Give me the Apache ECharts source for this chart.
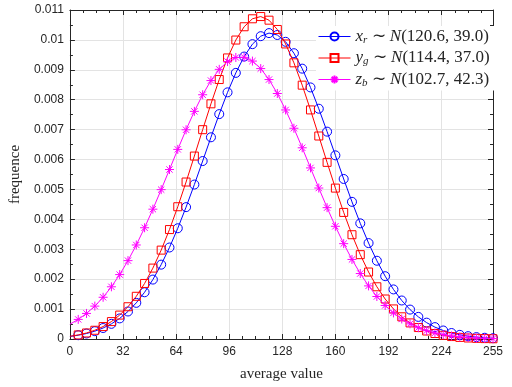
<!DOCTYPE html>
<html>
<head>
<meta charset="utf-8">
<script src="https://cdn.jsdelivr.net/npm/echarts@6/dist/echarts.min.js"></script>
<style>html,body{margin:0;padding:0;background:#fff}#c{width:512px;height:387px}</style>
</head>
<body>
<div id="c"></div>
<script>
// average value positions (markers shown from 5 on)
var xs = [0,5,10,15,20,25,30,35,40,45,50,55,60,65,70,75,80,85,90,95,100,105,110,115,120,125,130,135,140,145,150,155,160,165,170,175,180,185,190,195,200,205,210,215,220,225,230,235,240,245,250,255];
var xTicks = [0,32,64,96,128,160,192,224,255];
var yTicks = [0,0.001,0.002,0.003,0.004,0.005,0.006,0.007,0.008,0.009,0.01,0.011];
var seriesNames = ['x_r ~ N(120.6, 39.0)', 'y_g ~ N(114.4, 37.0)', 'z_b ~ N(102.7, 42.3)'];
var xr = [0.0000858,0.0001265,0.0001834,0.0002617,0.0003673,0.0005071,0.0006886,0.0009199,0.0012088,0.0015628,0.0019872,0.0024860,0.0030589,0.0037026,0.0044087,0.0051640,0.0059500,0.0067439,0.0075191,0.0082467,0.0088974,0.0094428,0.0098584,0.0101244,0.0102281,0.0101644,0.0099365,0.0095553,0.0090389,0.0084111,0.0076992,0.0069326,0.0061407,0.0053506,0.0045861,0.0038668,0.0032071,0.0026166,0.0021001,0.0016580,0.0012876,0.0009837,0.0007393,0.0005465,0.0003974,0.0002843,0.0002001,0.0001385,0.0000943,0.0000632,0.0000416,0.0000270];
var yg = [0.0000905,0.0001362,0.0002013,0.0002921,0.0004161,0.0005821,0.0007995,0.0010783,0.0014279,0.0018567,0.0023706,0.0029720,0.0036585,0.0044220,0.0052483,0.0061161,0.0069985,0.0078633,0.0086751,0.0093975,0.0099958,0.0104398,0.0107062,0.0107808,0.0106594,0.0103487,0.0098652,0.0092341,0.0084870,0.0076592,0.0067871,0.0059054,0.0050453,0.0042325,0.0034863,0.0028197,0.0022393,0.0017462,0.0013371,0.0010053,0.0007421,0.0005379,0.0003829,0.0002676,0.0001836,0.0001237,0.0000819,0.0000532,0.0000339,0.0000212,0.0000131,0.0000079];
var zb = [0.0004949,0.0006549,0.0008545,0.0010994,0.0013950,0.0017454,0.0021535,0.0026203,0.0031439,0.0037198,0.0043403,0.0049939,0.0056663,0.0063399,0.0069953,0.0076112,0.0081665,0.0086407,0.0090157,0.0092763,0.0094121,0.0094174,0.0092919,0.0090409,0.0086746,0.0082077,0.0076582,0.0070463,0.0063933,0.0057204,0.0050473,0.0043915,0.0037680,0.0031882,0.0026601,0.0021887,0.0017759,0.0014209,0.0011211,0.0008723,0.0006693,0.0005064,0.0003779,0.0002780,0.0002017,0.0001443,0.0001018,0.0000709,0.0000486,0.0000329,0.0000219,0.0000144];

var colors = ['#0000ff', '#ff0000', '#ff00ff'];
var symbols = ['circle', 'rect', 'path://M0,-10L0,10M-10,0L10,0M-7,-7L7,7M-7,7L7,-7'];
var sizes = [9, 8, 9];

function mk(vals) {
  return xs.map(function (x, k) {
    var d = { value: [x, vals[k]] };
    if (k === 0) d.symbol = 'none';
    return d;
  });
}

var axisCol = '#262626';
var chart = echarts.init(document.getElementById('c'), null, { renderer: 'canvas' });

function xAx(pos, labels) {
  return {
    type: 'value', position: pos, min: 0, max: 255, interval: 32,
    axisLine: { show: true, onZero: false, lineStyle: { color: axisCol, width: 1 } },
    axisTick: { show: true, inside: true, length: 5, lineStyle: { color: axisCol } },
    minorTick: { show: true, splitNumber: 4, length: 3, lineStyle: { color: axisCol } },
    axisLabel: { show: labels, color: axisCol, fontFamily: 'Liberation Sans', fontSize: 12, margin: 7,
      customValues: xTicks },
    splitLine: { show: labels, lineStyle: { color: '#e3e3e3', width: 1 } },
    name: labels ? 'average value' : '', nameLocation: 'middle', nameGap: 28,
    nameTextStyle: { fontFamily: 'Liberation Serif', fontSize: 15, color: axisCol }
  };
}
function yAx(pos, labels) {
  return {
    type: 'value', position: pos, min: 0, max: 0.011, interval: 0.001,
    axisLine: { show: true, onZero: false, lineStyle: { color: axisCol, width: 1 } },
    axisTick: { show: true, inside: true, length: 5, lineStyle: { color: axisCol } },
    minorTick: { show: true, splitNumber: 2, length: 3, lineStyle: { color: axisCol } },
    axisLabel: { show: labels, color: axisCol, fontFamily: 'Liberation Sans', fontSize: 12, margin: 6,
      formatter: function (v) { return String(+v.toFixed(3)); } },
    splitLine: { show: labels, lineStyle: { color: '#e3e3e3', width: 1 } },
    name: labels ? 'frequence' : '', nameLocation: 'middle', nameGap: 45, nameRotate: 90,
    nameTextStyle: { fontFamily: 'Liberation Serif', fontSize: 15, color: axisCol }
  };
}

var legendLabels = {};
legendLabels[seriesNames[0]] = '{i|x}{s|r}{t| ∼ }{i|N}{t|(120.6, 39.0)}';
legendLabels[seriesNames[1]] = '{i|y}{s|g}{t| ∼ }{i|N}{t|(114.4, 37.0)}';
legendLabels[seriesNames[2]] = '{i|z}{s|b}{t| ∼ }{i|N}{t|(102.7, 42.3)}';

chart.setOption({
  backgroundColor: '#fff',
  animation: false,
  grid: { left: 68, right: 19, top: 10, bottom: 43, containLabel: false },
  xAxis: [xAx('bottom', true), xAx('top', false)],
  yAxis: [yAx('left', true), yAx('right', false)],
  legend: {
    orient: 'vertical', left: 316, top: 26,
    backgroundColor: '#ffffff', padding: [2, 6, 2, 2],
    itemWidth: 32, itemHeight: 10, itemGap: 4,
    formatter: function (n) { return legendLabels[n]; },
    lineStyle: { width: 1 },
    textStyle: {
      color: axisCol,
      rich: {
        i: { fontFamily: 'Liberation Serif', fontStyle: 'italic', fontSize: 17, color: axisCol },
        s: { fontFamily: 'Liberation Serif', fontStyle: 'italic', fontSize: 11, color: axisCol, padding: [7, 0, 0, 0] },
        t: { fontFamily: 'Liberation Serif', fontSize: 17, color: axisCol }
      }
    },
    data: seriesNames
  },
  series: [xr, yg, zb].map(function (vals, i) {
    return {
      name: seriesNames[i], type: 'line', xAxisIndex: 0, yAxisIndex: 0,
      data: mk(vals),
      symbol: symbols[i], symbolSize: sizes[i], showAllSymbol: true,
      lineStyle: { color: colors[i], width: 1 },
      itemStyle: { color: 'rgba(0,0,0,0)', borderColor: colors[i], borderWidth: 1 },
      emphasis: { disabled: true },
      z: 2 + i
    };
  })
});
</script>
</body>
</html>
